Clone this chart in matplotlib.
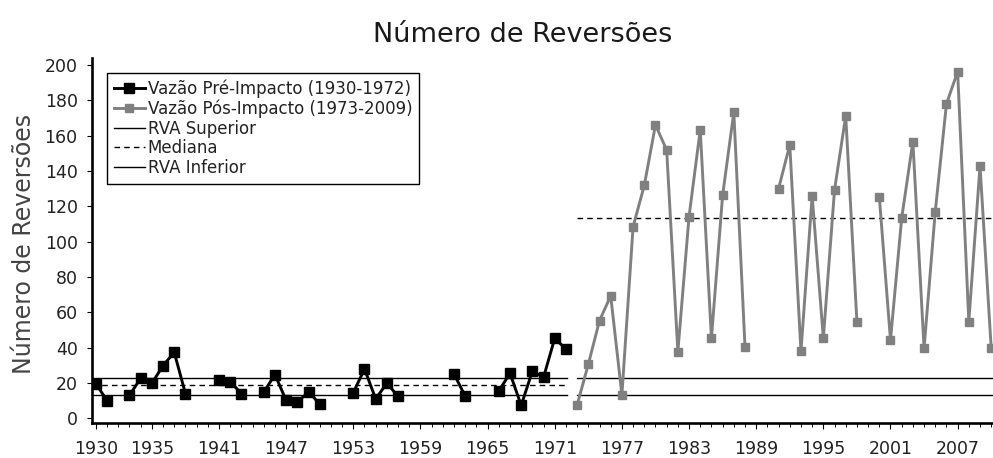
import numpy as np
import matplotlib
matplotlib.use("Agg")
import matplotlib.pyplot as plt
from matplotlib.ticker import FixedLocator, MultipleLocator

# ---------------------------------------------------------------
# Data (NaN = year without a value)
# ---------------------------------------------------------------
years_pre = np.arange(1930, 1973)
rev_pre = [19.5, 10, np.nan, 13, 22.6, 19.8, 29.8, 37.3, 13.9, np.nan,
           np.nan, 21.7, 20.8, 13.9, np.nan, 14.8, 24.7, 10.1, 9.2, 14.8,
           8.2, np.nan, np.nan, 14.5, 27.9, 11, 19.8, 12.4, np.nan, np.nan,
           np.nan, np.nan, 25.1, 12.4, np.nan, np.nan, 15.4, 25.5, 7.3, 26.6,
           23.2, 45.3, 39.1]

years_pos = np.arange(1973, 2011)
rev_pos = [7.5, 30.6, 55.3, 69.3, 13.2, 108.5, 131.8, 166.1, 151.9, 37.7,
           114.2, 163.3, 45.3, 126.2, 173.3, 40.5, np.nan, np.nan, 130, 154.8,
           37.9, 125.9, 45.3, 129.3, 171.2, 54.7, np.nan, 125.5, 44.3, 113.3,
           156.6, 39.6, 117, 178, 196.3, 54.7, 142.9, 39.6]

# RVA limits and median for each period
rva_sup_pre, mediana_pre, rva_inf_pre = 22.8, 19.1, 13.4
rva_sup_pos, mediana_pos, rva_inf_pos = 22.6, 113.6, 13.2

tick_years = [1930, 1935, 1941, 1947, 1953, 1959, 1965, 1971,
              1977, 1983, 1989, 1995, 2001, 2007]

# ---------------------------------------------------------------
# Plot
# ---------------------------------------------------------------
fig = plt.figure(figsize=(9.93, 4.58), dpi=100)
ax = fig.add_axes([0.0923, 0.0764, 0.9077, 0.797])

x0, x1 = 1929.62, 2010.16

ax.plot(years_pre, rev_pre, color="black", linewidth=2.1, marker="s",
        markersize=7.2, label="Vazão Pré-Impacto (1930-1972)", zorder=4)
ax.plot(years_pos, rev_pos, color="#808080", linewidth=2.1, marker="s",
        markersize=5.8, label="Vazão Pós-Impacto (1973-2009)", zorder=4)

# pre-impact reference lines
ax.plot([x0, 1972.1], [rva_sup_pre] * 2, color="black", linewidth=1, label="RVA Superior")
ax.plot([x0, 1972.1], [mediana_pre] * 2, color="black", linewidth=1,
        linestyle=(0, (4, 3)), label="Mediana")
ax.plot([x0, 1972.1], [rva_inf_pre] * 2, color="black", linewidth=1, label="RVA Inferior")
# post-impact reference lines
ax.plot([1973, x1], [rva_sup_pos] * 2, color="black", linewidth=1)
ax.plot([1973, x1], [mediana_pos] * 2, color="black", linewidth=1, linestyle=(0, (4, 3)))
ax.plot([1973, x1], [rva_inf_pos] * 2, color="black", linewidth=1)

ax.set_xlim(x0, x1)
ax.set_ylim(-2.7, 204)

for s in ["top", "right"]:
    ax.spines[s].set_visible(False)
for s in ["left", "bottom"]:
    ax.spines[s].set_linewidth(1.9)

ax.xaxis.set_major_locator(FixedLocator(tick_years))
ax.xaxis.set_minor_locator(MultipleLocator(1))
ax.yaxis.set_major_locator(MultipleLocator(20))
ax.tick_params(axis="x", which="major", length=4.5, width=0.8, pad=7.5,
               labelsize=12.5, labelcolor="#222222")
ax.tick_params(axis="x", which="minor", length=3, width=0.7)
ax.tick_params(axis="y", length=3.6, width=0.8, pad=6.5,
               labelsize=12.5, labelcolor="#222222")

leg = ax.legend(loc="upper left", bbox_to_anchor=(0.017, 0.96), borderaxespad=0,
                fontsize=12, labelspacing=0.1, handlelength=1.9,
                handletextpad=0.15, borderpad=0.4, numpoints=1,
                fancybox=False, framealpha=1, edgecolor="black")
leg.get_frame().set_linewidth(1)
for t in leg.get_texts():
    t.set_color("#222222")

fig.text(0.526, 0.924, "Número de Reversões", fontsize=19.5, ha="center",
         va="center", color="#1a1a1a")
fig.text(0.024, 0.467, "Número de Reversões", fontsize=17, ha="center",
         va="center", rotation=90, color="#444444")

plt.savefig("out.png", dpi=100)
